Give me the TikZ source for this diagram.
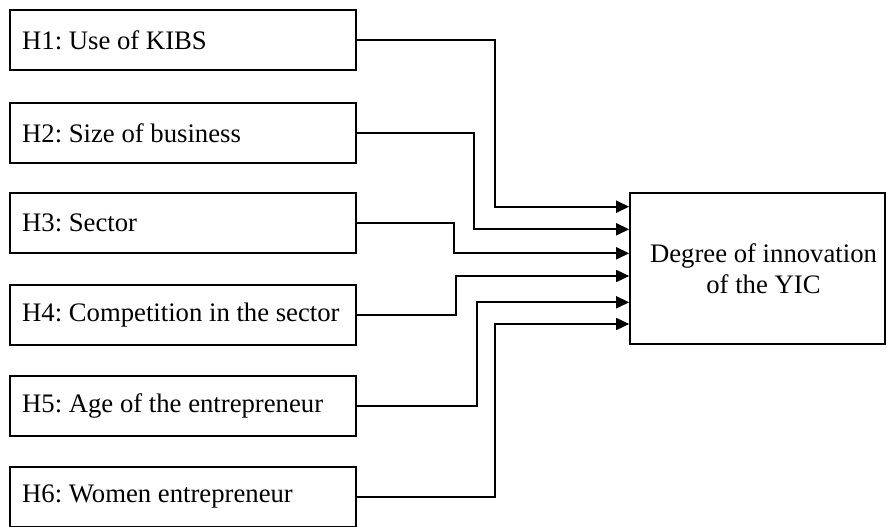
\documentclass[tikz,border=0pt]{standalone}
\usepackage{fontspec}
\setmainfont{Liberation Serif}
\frenchspacing
\usetikzlibrary{arrows.meta}
\tikzset{
  hyp/.style={draw, line width=1pt, anchor=west, minimum width=6.93cm, minimum height=1.2cm,
    text width=6.44cm, inner xsep=0.24cm, align=flush left, font=\fontsize{15.2}{17.6}\selectfont},
  link/.style={line width=1pt, -{Triangle[length=0.26cm, width=0.24cm]}}
}

\begin{document}
\begin{tikzpicture}[x=0.02cm, y=-0.02cm]
		%%%%% START %%%%%
		\useasboundingbox (0, 0) rectangle (887, 527);
		
		\node[hyp] (h1) at (9, 40) {H1: Use of KIBS};
		\node[hyp] (h2) at (9, 133) {H2: Size of business};
		\node[hyp] (h3) at (9, 223) {H3: Sector};
		\node[hyp] (h4) at (9, 315) {H4: Competition in the sector};
		\node[hyp] (h5) at (9, 406) {H5: Age of the entrepreneur};
		\node[hyp] (h6) at (9, 497) {H6: Women entrepreneur};
		
		\node[draw, line width=1pt, minimum width=5.1cm, minimum height=3.02cm, align=center,
			font=\fontsize{15.2}{17.6}\selectfont] (yic) at (757.5, 268.5) {\hspace*{0.24cm}Degree of innovation\\\hspace*{0.24cm}of the YIC};
		
		\coordinate (in1) at (yic.west |- 0, 206.7);
		\coordinate (in2) at (yic.west |- 0, 229.3);
		\coordinate (in3) at (yic.west |- 0, 253.3);
		\coordinate (in4) at (yic.west |- 0, 276);
		\coordinate (in5) at (yic.west |- 0, 302.3);
		\coordinate (in6) at (yic.west |- 0, 324);
		
		\draw[link] (h1.east) -- ++(137.5, 0) |- (in1);
		\draw[link] (h2.east) -- ++(117, 0) |- (in2);
		\draw[link] (h3.east) -- ++(96.5, 0) |- (in3);
		\draw[link] (h4.east) -- ++(98.5, 0) |- (in4);
		\draw[link] (h5.east) -- ++(119.5, 0) |- (in5);
		\draw[link] (h6.east) -- ++(137.5, 0) |- (in6);
		%%%%% END %%%%%
	\end{tikzpicture}
\end{document}
